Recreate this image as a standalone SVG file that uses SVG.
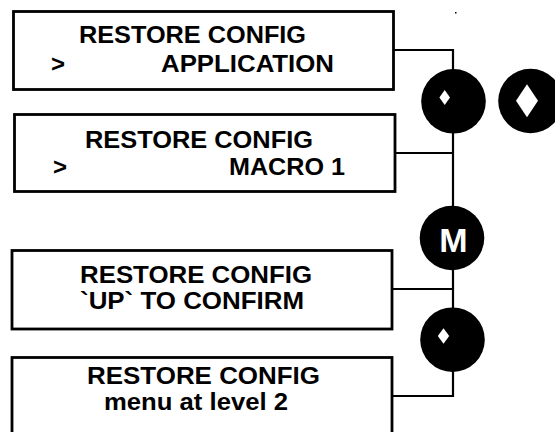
<svg xmlns="http://www.w3.org/2000/svg" width="555" height="432" viewBox="0 0 555 432">
<style>
.box{fill:#fff;stroke:#000;stroke-width:2.8}
.t{font-family:"Liberation Sans",Arial,sans-serif;font-weight:bold;font-size:24px;fill:#000}
.con{fill:none;stroke:#000;stroke-width:2.2}
.btn{fill:#000}
.sym{fill:#fff}
.m{font-family:"Liberation Sans",Arial,sans-serif;font-weight:bold;font-size:34px;fill:#fff;text-anchor:middle}
</style>
<rect x="0" y="0" width="555" height="432" fill="#fff"/>
<g id="connectors">
<polyline class="con" points="393,50 453,50 453,70"/>
<polyline class="con" points="453,132 453,206"/>
<polyline class="con" points="395,153 453,153"/>
<polyline class="con" points="453,270 453,308"/>
<polyline class="con" points="392,289 453,289"/>
<polyline class="con" points="392,396 453,396 453,371"/>
<rect x="455" y="12" width="1.5" height="1.5" fill="#000"/>
</g>
<g id="node1">
<rect class="box" x="13.5" y="11.5" width="380" height="78"/>
<text class="t" x="79" y="43" textLength="227" lengthAdjust="spacingAndGlyphs">RESTORE CONFIG</text>
<text class="t" x="51" y="72">&gt;</text>
<text class="t" x="161" y="72" textLength="173" lengthAdjust="spacingAndGlyphs">APPLICATION</text>
</g>
<g id="node2">
<rect class="box" x="14.5" y="114.5" width="380.5" height="77"/>
<text class="t" x="85" y="148" textLength="228" lengthAdjust="spacingAndGlyphs">RESTORE CONFIG</text>
<text class="t" x="53" y="175">&gt;</text>
<text class="t" x="229" y="175" textLength="116" lengthAdjust="spacingAndGlyphs">MACRO 1</text>
</g>
<g id="node3">
<rect class="box" x="12" y="250.5" width="380" height="78.5"/>
<text class="t" x="80" y="282.5" textLength="232" lengthAdjust="spacingAndGlyphs">RESTORE CONFIG</text>
<text class="t" x="80" y="308.5" textLength="224" lengthAdjust="spacingAndGlyphs">`UP` TO CONFIRM</text>
</g>
<g id="node4">
<rect class="box" x="12" y="357.5" width="380" height="90"/>
<text class="t" x="87" y="383.5" textLength="233" lengthAdjust="spacingAndGlyphs">RESTORE CONFIG</text>
<text class="t" x="104" y="409.5" textLength="184" lengthAdjust="spacingAndGlyphs">menu at level 2</text>
</g>
<g id="btn-down1">
<circle class="btn" cx="453.5" cy="101.3" r="32.3"/>
<polygon class="sym" points="444.7,90 450,97.5 444.7,105 439.4,97.5"/>
</g>
<g id="btn-up">
<circle class="btn" cx="530.5" cy="101" r="32.3"/>
<polygon class="sym" points="527,84.3 538,100.8 527,117.3 516,100.8"/>
</g>
<g id="btn-m">
<circle class="btn" cx="452" cy="238" r="32.3"/>
<text class="m" x="453.5" y="251.5">M</text>
</g>
<g id="btn-down2">
<circle class="btn" cx="452.5" cy="339.7" r="32.3"/>
<polygon class="sym" points="443.5,328.3 449.2,336 443.5,343.8 437.8,336"/>
</g>
</svg>
